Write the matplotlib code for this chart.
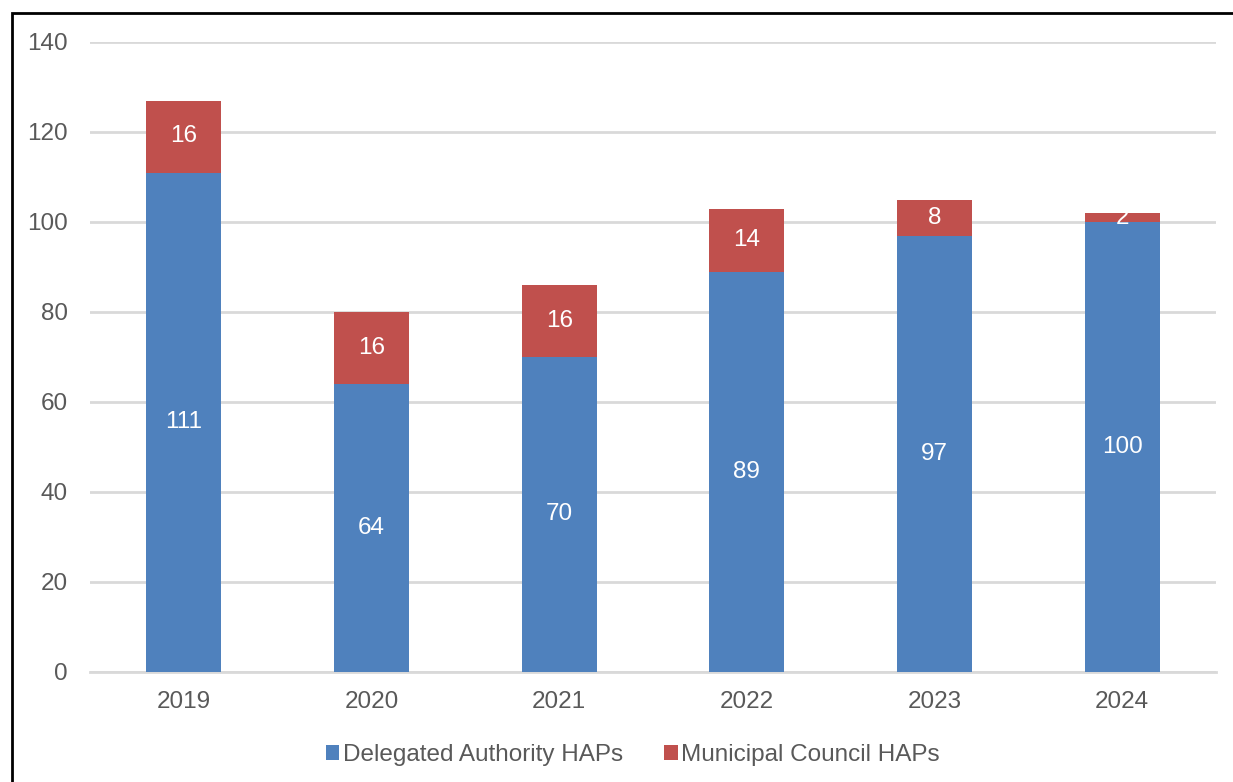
import numpy as np
import matplotlib.pyplot as plt
from matplotlib.patches import Rectangle

years = ["2019", "2020", "2021", "2022", "2023", "2024"]
delegated = [111, 64, 70, 89, 97, 100]
council = [16, 16, 16, 14, 8, 2]

blue = "#4F81BD"
red = "#C0504D"
grey = "#595959"

plt.rcParams["font.family"] = ["Liberation Sans", "DejaVu Sans"]

fig = plt.figure(figsize=(12.33, 7.82), dpi=100)
ax = fig.add_axes([90 / 1233, 110 / 782, 1126 / 1233, 630 / 782])

x = np.arange(len(years))
w = 0.4
ax.bar(x, delegated, w, color=blue, label="Delegated Authority HAPs", zorder=3)
ax.bar(x, council, w, bottom=delegated, color=red,
       label="Municipal Council HAPs", zorder=3)

# value labels in the middle of each segment
for i in range(len(years)):
    ax.text(x[i], delegated[i] / 2, str(delegated[i]), ha="center",
            va="center", color="white", fontsize=17.5, zorder=4)
    ax.text(x[i], delegated[i] + council[i] / 2, str(council[i]),
            ha="center", va="center", color="white", fontsize=17.5, zorder=4)

ax.set_xlim(-0.5, len(years) - 0.5)
ax.set_ylim(0, 140)
ax.set_yticks(range(0, 141, 20))
ax.set_xticks(x)
ax.set_xticklabels(years)
ax.yaxis.grid(True, color="#D9D9D9", linewidth=2, zorder=0)
for s in ["top", "right", "left"]:
    ax.spines[s].set_visible(False)
ax.spines["bottom"].set_color("#D9D9D9")
ax.spines["bottom"].set_linewidth(2)
ax.tick_params(axis="both", length=0, labelsize=17.5, labelcolor=grey)
ax.tick_params(axis="y", pad=16)
ax.tick_params(axis="x", pad=14)

leg = ax.legend(loc="upper center", bbox_to_anchor=(0.482, -0.08), ncol=2,
                frameon=False, fontsize=17.5, handlelength=0.55,
                handleheight=0.55, handletextpad=0.15, columnspacing=1.7)
for t in leg.get_texts():
    t.set_color(grey)

# outer frame
fig.patches.append(Rectangle((12 / 1233, -0.1), 1.2, 1.1 - 13 / 782,
                             transform=fig.transFigure, fill=False,
                             edgecolor="black", linewidth=2))

fig.savefig("out.png", dpi=100)
